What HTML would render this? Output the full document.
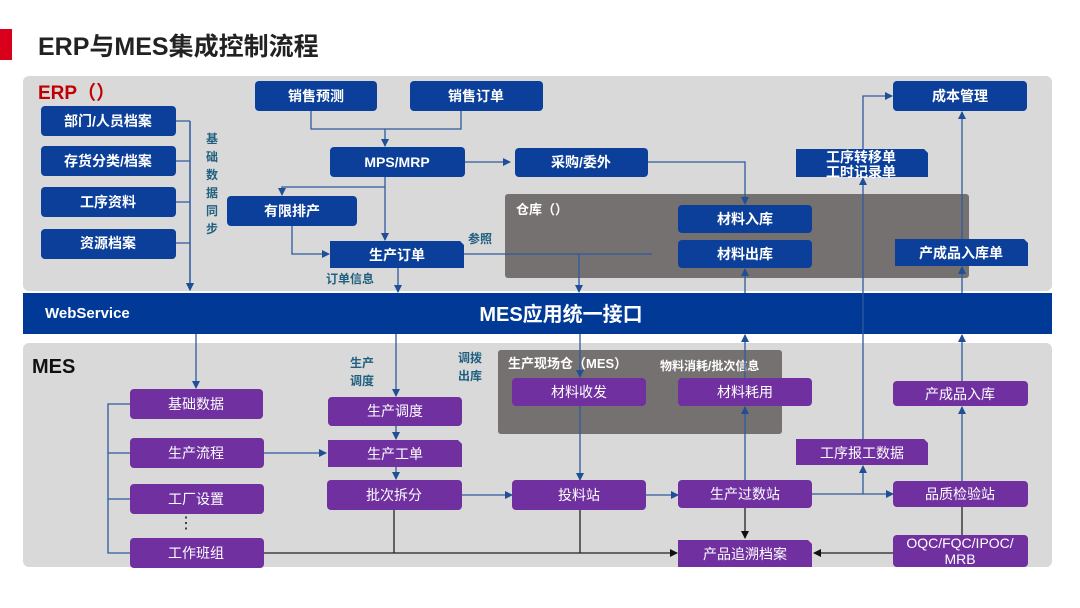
<!DOCTYPE html>
<html><head><meta charset="utf-8"><style>
html,body{margin:0;padding:0;background:#fff;}
svg{display:block;font-family:"Liberation Sans","Noto Sans CJK SC",sans-serif;}
.b{fill:#0b3f9a}.p{fill:#7030a0}
.t{fill:#fff;font-size:14px;font-weight:bold;text-anchor:middle;dominant-baseline:central}
.tp{fill:#fff;font-size:14px;text-anchor:middle;dominant-baseline:central}
.l{stroke:#2e5a9e;stroke-width:1.3;fill:none}
.k{stroke:#222;stroke-width:1.3;fill:none}
.lab{fill:#1f5f7f;font-size:12px;font-weight:bold}
</style></head><body>
<svg width="1080" height="608" viewBox="0 0 1080 608">
<defs>
<marker id="a" markerWidth="8" markerHeight="8" refX="7" refY="4" orient="auto" markerUnits="userSpaceOnUse"><path d="M0,0 L8,4 L0,8z" fill="#1f4f96"/></marker>
<marker id="ak" markerWidth="8" markerHeight="8" refX="7" refY="4" orient="auto" markerUnits="userSpaceOnUse"><path d="M0,0 L8,4 L0,8z" fill="#111"/></marker>
</defs>
<rect x="0" y="29" width="12" height="31" fill="#d9001b"/>
<text x="38" y="55" font-size="25" font-weight="bold" fill="#222">ERP与MES集成控制流程</text>
<rect x="23" y="76" width="1029" height="215" rx="6" fill="#d9d9d9"/>
<rect x="23" y="343" width="1029" height="224" rx="6" fill="#d9d9d9"/>
<rect x="23" y="293" width="1029" height="41" fill="#003a96"/>
<text x="45" y="318" font-size="15" font-weight="bold" fill="#fff">WebService</text>
<text x="561" y="321" font-size="20" font-weight="bold" fill="#fff" text-anchor="middle">MES应用统一接口</text>
<text x="38" y="99" font-size="19" font-weight="bold" fill="#c00000">ERP（）</text>
<text x="32" y="373" font-size="20" font-weight="bold" fill="#111">MES</text>
<!-- gray panels -->
<rect x="505" y="194" width="464" height="84" rx="3" fill="#757171"/>
<text x="516" y="214" font-size="13" font-weight="bold" fill="#fff">仓库（）</text>
<rect x="498" y="350" width="284" height="84" rx="3" fill="#757171"/>
<text x="508" y="368" font-size="13" font-weight="bold" fill="#fff">生产现场仓（MES）</text>
<text x="660" y="370" font-size="12" font-weight="bold" fill="#fff">物料消耗/批次信息</text>
<!-- ERP lines -->
<path class="l" d="M176,121H190M176,161H190M176,202H190M176,243H190M190,121V290" marker-end="url(#a)"/>
<path class="l" d="M190,121V290" marker-end="url(#a)"/>
<path class="l" d="M311,111V129H461V111M385,129V146" marker-end="url(#a)"/>
<path class="l" d="M465,162H510" marker-end="url(#a)"/>
<path class="l" d="M628,162H745V204" marker-end="url(#a)"/>
<path class="l" d="M385,177V240" marker-end="url(#a)"/>
<path class="l" d="M385,187H282V195" marker-end="url(#a)"/>
<path class="l" d="M292,225V254H329" marker-end="url(#a)"/>
<path class="l" d="M464,254H652"/>
<path class="l" d="M579,254V292" marker-end="url(#a)"/>
<path class="l" d="M398,268V292" marker-end="url(#a)"/>
<path class="l" d="M745,293V269" marker-end="url(#a)"/>
<path class="l" d="M962,293V267" marker-end="url(#a)"/>
<path class="l" d="M962,239V112" marker-end="url(#a)"/>
<path class="l" d="M863,440V178" marker-end="url(#a)"/>
<path class="l" d="M863,177V96H892" marker-end="url(#a)"/>
<text class="lab" x="468" y="243">参照</text>
<text class="lab" x="326" y="283">订单信息</text>
<g class="lab"><text x="206" y="143">基</text><text x="206" y="161">础</text><text x="206" y="179">数</text><text x="206" y="197">据</text><text x="206" y="215">同</text><text x="206" y="233">步</text></g>
<!-- ERP boxes -->
<rect class="b" x="41" y="106" width="135" height="30" rx="4"/><text class="t" x="108" y="121">部门/人员档案</text>
<rect class="b" x="41" y="146" width="135" height="30" rx="4"/><text class="t" x="108" y="161">存货分类/档案</text>
<rect class="b" x="41" y="187" width="135" height="30" rx="4"/><text class="t" x="108" y="202">工序资料</text>
<rect class="b" x="41" y="229" width="135" height="30" rx="4"/><text class="t" x="108" y="243">资源档案</text>
<rect class="b" x="255" y="81" width="122" height="30" rx="4"/><text class="t" x="316" y="96">销售预测</text>
<rect class="b" x="410" y="81" width="133" height="30" rx="4"/><text class="t" x="476" y="96">销售订单</text>
<rect class="b" x="330" y="147" width="135" height="30" rx="4"/><text class="t" x="397" y="162">MPS/MRP</text>
<rect class="b" x="515" y="148" width="133" height="29" rx="4"/><text class="t" x="581" y="162">采购/委外</text>
<rect class="b" x="227" y="196" width="130" height="30" rx="4"/><text class="t" x="292" y="211">有限排产</text>
<path class="b" d="M330,241H460L464,245V268H330Z"/><text class="t" x="397" y="255">生产订单</text>
<rect class="b" x="678" y="205" width="134" height="28" rx="4"/><text class="t" x="745" y="219">材料入库</text>
<rect class="b" x="678" y="240" width="134" height="28" rx="4"/><text class="t" x="745" y="254">材料出库</text>
<path class="b" d="M895,239H1024L1028,243V266H895Z"/><text class="t" x="961" y="253">产成品入库单</text>
<path class="b" d="M796,149H924L928,153V177H796Z"/><text class="t" x="861" y="157">工序转移单</text><text class="t" x="861" y="172">工时记录单</text>
<rect class="b" x="893" y="81" width="134" height="30" rx="4"/><text class="t" x="960" y="96">成本管理</text>
<!-- MES lines -->
<path class="l" d="M130,404H108V553H130M108,453H130M108,499H130"/>
<path class="l" d="M196,334V388" marker-end="url(#a)"/>
<path class="l" d="M396,334V396" marker-end="url(#a)"/>
<path class="l" d="M396,426V439" marker-end="url(#a)"/>
<path class="l" d="M396,467V479" marker-end="url(#a)"/>
<path class="l" d="M264,453H326" marker-end="url(#a)"/>
<path class="l" d="M462,495H512" marker-end="url(#a)"/>
<path class="l" d="M580,334V377" marker-end="url(#a)"/>
<path class="l" d="M580,406V480" marker-end="url(#a)"/>
<path class="l" d="M625,495H678" marker-end="url(#a)"/>
<path class="l" d="M769,494H893" marker-end="url(#a)"/>
<path class="l" d="M863,494V466" marker-end="url(#a)"/>
<path class="l" d="M745,480V407" marker-end="url(#a)"/>
<path class="l" d="M745,378V335" marker-end="url(#a)"/>
<path class="l" d="M962,481V407" marker-end="url(#a)"/>
<path class="l" d="M962,381V335" marker-end="url(#a)"/>
<path class="k" d="M962,507V535"/>
<path class="k" d="M745,508V538" marker-end="url(#ak)"/>
<path class="k" d="M264,553H677" marker-end="url(#ak)"/>
<path class="k" d="M394,510V553M580,510V553"/>
<path class="k" d="M893,553H814" marker-end="url(#ak)"/>
<text class="lab" x="350" y="367">生产</text><text class="lab" x="350" y="385">调度</text>
<text class="lab" x="458" y="362">调拨</text><text class="lab" x="458" y="380">出库</text>
<text x="186" y="528" font-size="16" text-anchor="middle" fill="#222">⋮</text>
<!-- MES boxes -->
<rect class="p" x="130" y="389" width="133" height="30" rx="4"/><text class="tp" x="196" y="404">基础数据</text>
<rect class="p" x="130" y="438" width="134" height="30" rx="4"/><text class="tp" x="196" y="453">生产流程</text>
<rect class="p" x="130" y="484" width="134" height="30" rx="4"/><text class="tp" x="196" y="499">工厂设置</text>
<rect class="p" x="130" y="538" width="134" height="30" rx="4"/><text class="tp" x="196" y="553">工作班组</text>
<rect class="p" x="328" y="397" width="134" height="29" rx="4"/><text class="tp" x="395" y="411">生产调度</text>
<path class="p" d="M328,440H458L462,444V467H328Z"/><text class="tp" x="395" y="454">生产工单</text>
<rect class="p" x="327" y="480" width="135" height="30" rx="4"/><text class="tp" x="394" y="495">批次拆分</text>
<rect class="p" x="512" y="378" width="134" height="28" rx="4"/><text class="tp" x="579" y="392">材料收发</text>
<rect class="p" x="678" y="378" width="134" height="28" rx="4"/><text class="tp" x="745" y="392">材料耗用</text>
<rect class="p" x="512" y="480" width="134" height="30" rx="4"/><text class="tp" x="579" y="495">投料站</text>
<rect class="p" x="678" y="480" width="134" height="28" rx="4"/><text class="tp" x="745" y="494">生产过数站</text>
<rect class="p" x="893" y="481" width="135" height="26" rx="4"/><text class="tp" x="960" y="494">品质检验站</text>
<rect class="p" x="893" y="381" width="135" height="25" rx="4"/><text class="tp" x="960" y="394">产成品入库</text>
<path class="p" d="M796,439H924L928,443V465H796Z"/><text class="tp" x="862" y="453">工序报工数据</text>
<path class="p" d="M678,540H808L812,544V567H678Z"/><text class="tp" x="745" y="554">产品追溯档案</text>
<rect class="p" x="893" y="535" width="135" height="32" rx="4"/><text class="tp" x="960" y="543">OQC/FQC/IPOC/</text><text class="tp" x="960" y="559">MRB</text>
</svg>
</body></html>
